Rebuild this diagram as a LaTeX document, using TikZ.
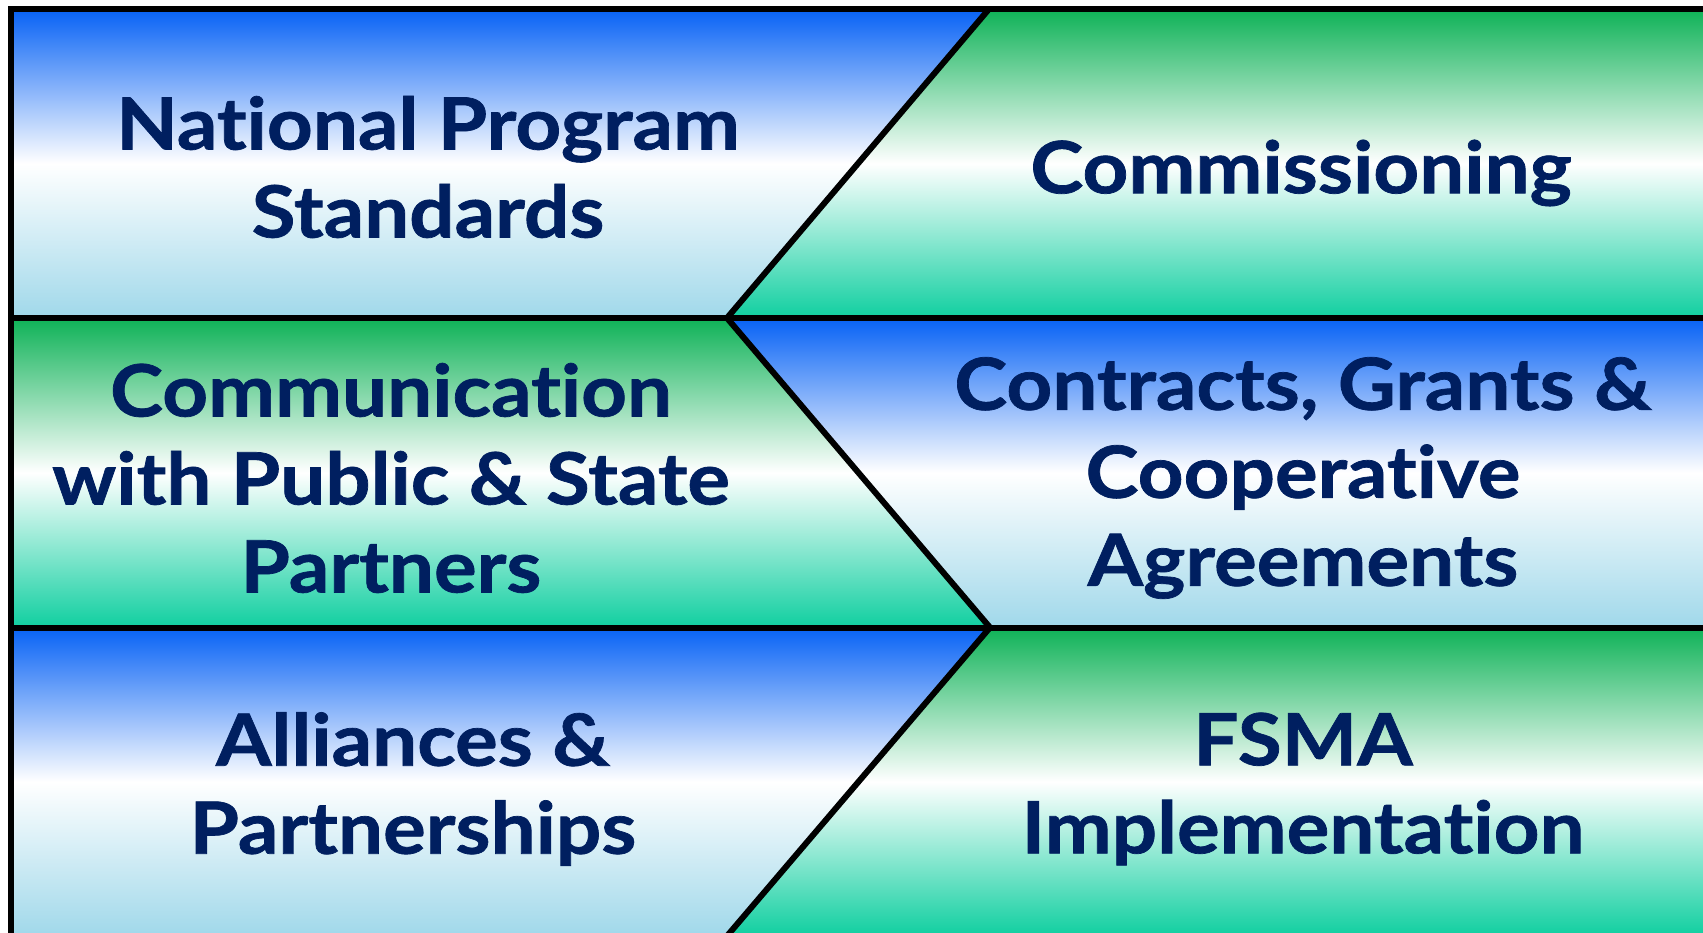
\documentclass[tikz,border=0pt]{standalone}
\usepackage{fontspec}
\setmainfont{Lato}[Ligatures={NoCommon},BoldFeatures={FakeStretch=1.11,FakeBold=1}]
\definecolor{navy}{HTML}{001F60}
\definecolor{cblueT}{HTML}{0762F5}
\definecolor{cblueB}{HTML}{A0D8EA}
\definecolor{cgreenT}{HTML}{0EB257}
\definecolor{cgreenB}{HTML}{10CFA0}
\begin{document}
\begin{tikzpicture}[x=1pt,y=-1pt,
  lbl/.style={text=navy,font=\bfseries\fontsize{72}{88}\selectfont,align=center,inner sep=0pt},
  bluecell/.style={top color=cblueT,bottom color=cblueB,middle color=white},
  greencell/.style={top color=cgreenT,bottom color=cgreenB,middle color=white},
  border/.style={line width=6pt,black,line join=miter}]
\useasboundingbox (0,0) rectangle (1703,933);
\clip (0,0) rectangle (1703,933);
% vertices
\coordinate (tl) at (11,9);
\coordinate (tz) at (989,9);
\coordinate (tr) at (1720,9);
\coordinate (m1l) at (11,318);
\coordinate (m1z) at (727,318);
\coordinate (m1r) at (1720,318);
\coordinate (m2l) at (11,627.5);
\coordinate (m2z) at (990,627.5);
\coordinate (m2r) at (1720,627.5);
\coordinate (bl) at (11,936);
\coordinate (bz) at (727,936);
\coordinate (br) at (1720,936);
% cells
\fill[bluecell] (tl) -- (tz) -- (m1z) -- (m1l) -- cycle;
\fill[greencell] (tz) -- (tr) -- (m1r) -- (m1z) -- cycle;
\fill[greencell] (m1l) -- (m1z) -- (m2z) -- (m2l) -- cycle;
\fill[bluecell] (m1z) -- (m1r) -- (m2r) -- (m2z) -- cycle;
\fill[bluecell] (m2l) -- (m2z) -- (bz) -- (bl) -- cycle;
\fill[greencell] (m2z) -- (m2r) -- (br) -- (bz) -- cycle;
% borders
\draw[border] (tr) -- (tl) -- (11,945);
\draw[border] (m1l) -- (m1r);
\draw[border] (m2l) -- (m2r);
\draw[border] (tz) -- (m1z) -- (m2z) -- (bz);
% labels
\node[lbl] (nps) at (428,167) {National Program\\Standards};
\node[lbl] (com) at (1301,173) {Commissioning};
\node[lbl] (cps) at (391,478) {Communication\\with Public \& State\\Partners};
\node[lbl] (cgc) at (1303,478) {Contracts, Grants \&\\Cooperative\\Agreements};
\node[lbl] (all) at (413,789) {Alliances \&\\Partnerships};
\node[lbl] (fsm) at (1303,789) {FSMA\\Implementation};
\end{tikzpicture}
\end{document}
